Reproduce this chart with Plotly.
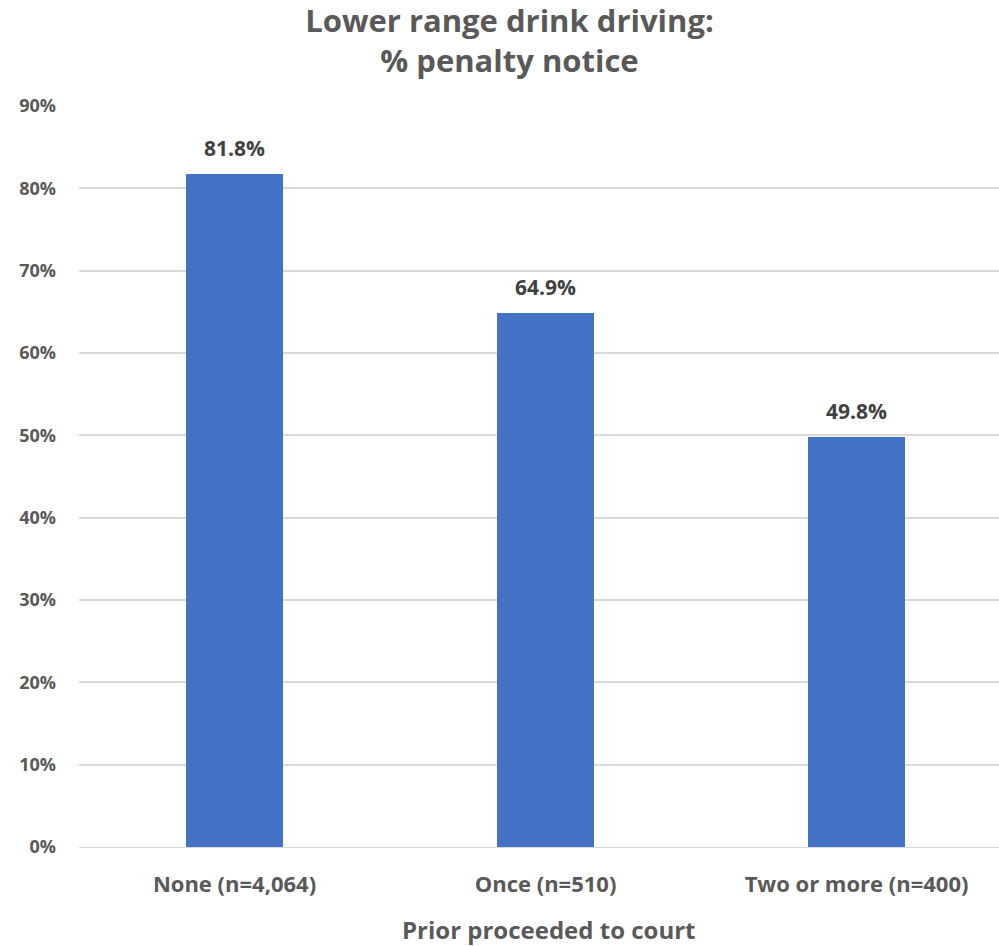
import plotly.graph_objects as go

categories = ["None (n=4,064)", "Once (n=510)", "Two or more (n=400)"]
values = [0.818, 0.649, 0.498]
labels = ["81.8%", "64.9%", "49.8%"]
y_ticks = [0, 0.1, 0.2, 0.3, 0.4, 0.5, 0.6, 0.7, 0.8, 0.9]
y_tick_text = ["0%", "10%", "20%", "30%", "40%", "50%", "60%", "70%", "80%", "90%"]

FONT = "'Open Sans', sans-serif"
GRAY = "#595959"

fig = go.Figure(go.Bar(
    x=[0, 1, 2], y=values, width=0.31,
    marker=dict(color="#4472C4", line=dict(width=0)),
    hoverinfo="skip",
))

for i, (v, t) in enumerate(zip(values, labels)):
    fig.add_annotation(x=i, y=v, text=f"<b>{t}</b>", showarrow=False,
                       yanchor="bottom", yshift=10,
                       font=dict(family=FONT, size=21, color="#404040"))

# x-axis title (centred on the full, un-cropped plot area as in the reference)
fig.add_annotation(x=0.511, y=-0.112, xref="paper", yref="paper",
                   text="<b>Prior proceeded to court</b>", showarrow=False,
                   xanchor="center", yanchor="middle",
                   font=dict(family=FONT, size=24, color=GRAY))

fig.update_layout(
    width=999, height=946,
    margin=dict(l=79, r=0, t=106, b=99),
    plot_bgcolor="white", paper_bgcolor="white",
    bargap=0,
    title=dict(text="<b>Lower range drink driving:<br>% penalty notice</b>",
               x=0.51, xanchor="center", y=0.966, yanchor="top",
               font=dict(family=FONT, size=31, color=GRAY)),
    xaxis=dict(
        range=[-0.5, 2.458], tickmode="array", tickvals=[0, 1, 2], ticktext=categories,
        showgrid=False, zeroline=False, showline=True, linecolor="#D9D9D9", linewidth=1,
        ticks="", ticklabelstandoff=18,
        tickfont=dict(family=FONT, size=22, color=GRAY, weight="bold"),
    ),
    yaxis=dict(
        range=[0, 0.9], tickmode="array", tickvals=y_ticks, ticktext=y_tick_text,
        showgrid=True, gridcolor="#D9D9D9", gridwidth=1.5, zeroline=False,
        ticks="", ticklabelstandoff=22,
        tickfont=dict(family=FONT, size=18, color=GRAY, weight="bold"),
    ),
    showlegend=False,
)

fig.write_html("out.html")
